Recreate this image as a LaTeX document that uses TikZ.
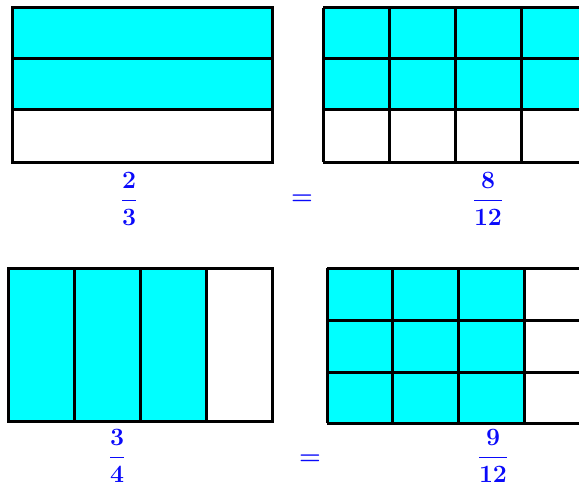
\documentclass[tikz,border=0pt]{standalone}
\definecolor{cyanfill}{RGB}{0,255,255}
\definecolor{fracblue}{RGB}{10,10,250}
\begin{document}
\begin{tikzpicture}[x=1pt,y=-1pt,
  gridline/.style={line width=3pt,draw=black},
  frac/.style={text=fracblue,font=\fontsize{24}{28}\selectfont\boldmath,inner sep=0pt}]
\useasboundingbox (0,0) rectangle (579,487);
\clip (0,0) rectangle (579,487);
% top-left: 2/3
\fill[cyanfill] (12,8) rectangle (272,110);
\draw[gridline] (12,8) rectangle (272,162);
\draw[gridline] (12,59) -- (272,59) (12,110) -- (272,110);
% top-right: 8/12
\fill[cyanfill] (323,8) rectangle (600,110);
\draw[gridline] (323,8) -- (600,8) (323,59) -- (600,59) (323,110) -- (600,110) (323,162) -- (600,162);
\foreach \x in {323,389,455,521,587} \draw[gridline] (\x,8) -- (\x,162);
% bottom-left: 3/4
\fill[cyanfill] (8,268) rectangle (206,421);
\draw[gridline] (8,268) rectangle (272,421);
\foreach \x in {74,140,206} \draw[gridline] (\x,268) -- (\x,421);
% bottom-right: 9/12
\fill[cyanfill] (327,268) rectangle (524,423);
\draw[gridline] (327,268) -- (600,268) (327,320) -- (600,320) (327,372) -- (600,372) (327,423) -- (600,423);
\foreach \x in {327,392,458,524,590} \draw[gridline] (\x,268) -- (\x,423);
% labels
\node[frac] (f1) at (129,199) {$\displaystyle\frac{\mathbf{2}}{\mathbf{3}}$};
\node[frac] (e1) at (302,200) {$=$};
\node[frac] (f2) at (488,199) {$\displaystyle\frac{\mathbf{8}}{\mathbf{12}}$};
\node[frac] (f3) at (117,456) {$\displaystyle\frac{\mathbf{3}}{\mathbf{4}}$};
\node[frac] (e2) at (310,460) {$=$};
\node[frac] (f4) at (493,456) {$\displaystyle\frac{\mathbf{9}}{\mathbf{12}}$};
\end{tikzpicture}
\end{document}
